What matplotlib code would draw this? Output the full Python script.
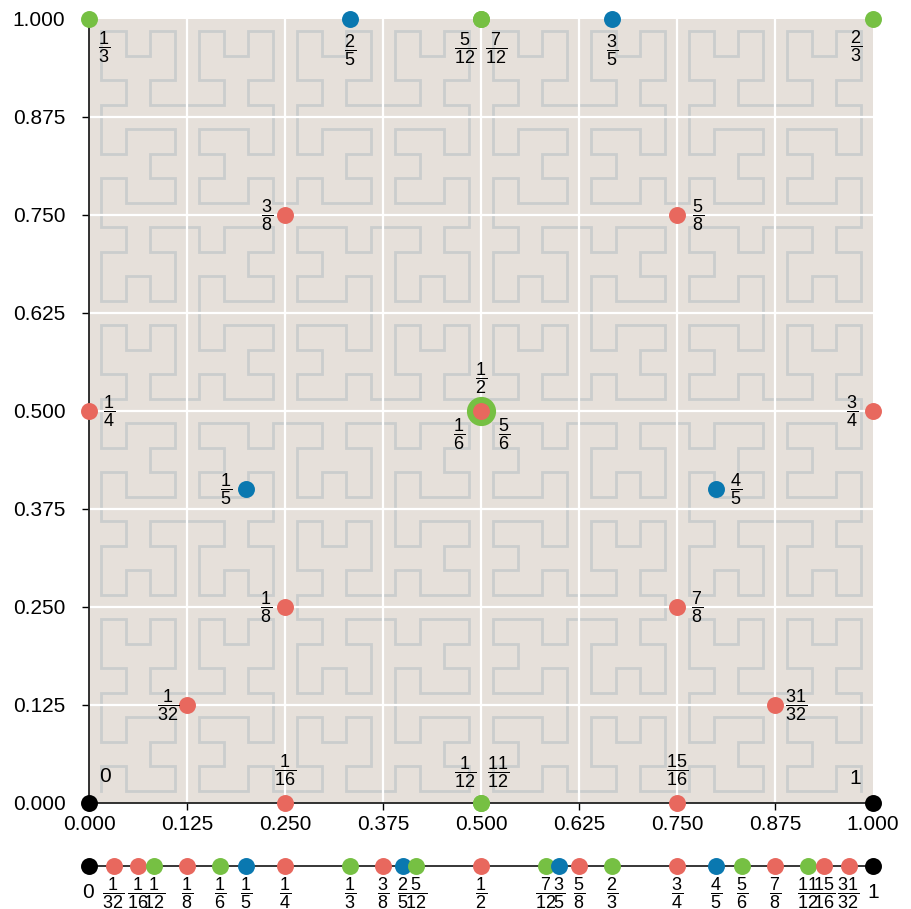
"""
Hilbert curve + rational points: where h(t) lands for a few simple fractions t,
and the same fractions on the unit interval underneath.
"""
import numpy as np
import matplotlib
matplotlib.use('Agg')
import matplotlib.pyplot as plt

plt.rcParams.update({
    'font.family': 'sans-serif',
    'font.sans-serif': ['Liberation Sans', 'DejaVu Sans'],
    'mathtext.fontset': 'custom',
    'mathtext.rm': 'Liberation Sans',
    'mathtext.it': 'Liberation Sans',
    'mathtext.bf': 'Liberation Sans:bold',
})

# --- data -------------------------------------------------------------------
HILBERT_ORDER = 5          # 32 x 32 cells in the background curve

# fraction t, numerator/denominator, and the image point h(t) in the square
frac_num = [0, 1, 1, 1, 1, 1, 1, 1, 1, 3, 2, 5, 1, 7, 3, 5, 2, 3, 4, 5, 7, 11, 15, 31, 1]
frac_den = [1, 32, 16, 12, 8, 6, 5, 4, 3, 8, 5, 12, 2, 12, 5, 8, 3, 4, 5, 6, 8, 12, 16, 32, 1]
hil_x = [0, 0.125, 0.25, 0.5, 0.25, 0.5, 0.2, 0, 0, 0.25, 1 / 3, 0.5, 0.5, 0.5,
         2 / 3, 0.75, 1, 1, 0.8, 0.5, 0.75, 0.5, 0.75, 0.875, 1]
hil_y = [0, 0.125, 0, 0, 0.25, 0.5, 0.4, 0.5, 1, 0.75, 1, 1, 0.5, 1,
         1, 0.75, 1, 0.5, 0.4, 0.5, 0.25, 0, 0, 0.125, 0]

tick_vals = [0, 0.125, 0.25, 0.375, 0.5, 0.625, 0.75, 0.875, 1.0]

# --- style ------------------------------------------------------------------
_RED = '#e8685e'
_GREEN = '#76c043'
_BLUE = '#0a78b0'
_BLACK = '#000000'
_BG = '#e6e0da'
_CURVE = '#cbcdcd'
_DOT = 12.2          # marker size (pt)
_RING = 21.0         # green dot behind the red one at (1/2, 1/2)
_TICK_FS = 15
_FRAC_FS = 13

# label offsets in pixels (dx, dy) from the point, for the square
_SQ_OFF = {
    '0': (16, 27), '1': (-18, 25),
    '1/32': (-19, 0), '31/32': (21, 0),
    '1/16': (0, 33), '15/16': (0, 33),
    '1/12': (-16, 31), '11/12': (17, 31),
    '1/8': (-19, 0), '7/8': (20, 0),
    '3/8': (-18, 0), '5/8': (21, 0),
    '1/5': (-20, 0), '4/5': (20, 0),
    '1/4': (20, 0), '3/4': (-21, 0),
    '1/2': (0, 33), '1/6': (-22, -23), '5/6': (23, -23),
    '1/3': (15, -28), '2/3': (-17, -27),
    '2/5': (0, -31), '3/5': (0, -31),
    '5/12': (-16, -29), '7/12': (15, -29),
}


def _color(num, den):
    if num == 0 or num == den:
        return _BLACK
    if den % 3 == 0:
        return _GREEN
    if den % 5 == 0:
        return _BLUE
    return _RED


def _label(num, den):
    if den == 1:
        return f'{num}', f'{num}'
    return f'{num}/{den}', r'$\dfrac{%d}{%d}$' % (num, den)


def _d2xy(n, d):
    """Hilbert index -> cell (x, y), curve starts (0,0) goes up, ends (n-1,0)."""
    x = y = 0
    s = 1
    t = d
    while s < n:
        rx = 1 & (t // 2)
        ry = 1 & (t ^ rx)
        if ry == 0:
            if rx == 1:
                x, y = s - 1 - x, s - 1 - y
            x, y = y, x
        x += s * rx
        y += s * ry
        t //= 4
        s *= 2
    return x, y


n = 2 ** HILBERT_ORDER
cells = np.array([_d2xy(n, d) for d in range(n * n)], dtype=float)
curve = (cells + 0.5) / n

# --- figure -----------------------------------------------------------------
W, H = 911, 909
fig = plt.figure(figsize=(W / 100, H / 100), dpi=100)
ax = fig.add_axes([89 / W, 106 / H, 784 / W, 784 / H])
ax.set_facecolor(_BG)
ax.plot(curve[:, 0], curve[:, 1], '-', color=_CURVE, lw=2.0, zorder=1,
        solid_joinstyle='miter')
for v in tick_vals[1:-1]:
    ax.axvline(v, color='white', lw=1.6, zorder=1.5)
    ax.axhline(v, color='white', lw=1.6, zorder=1.5)

ax.set_xlim(0, 1)
ax.set_ylim(0, 1)
ax.set_xticks(tick_vals)
ax.set_yticks(tick_vals)
ax.set_xticklabels([f'{v:.3f}' for v in tick_vals])
ax.set_yticklabels([f'{v:.3f}' for v in tick_vals])
ax.tick_params(axis='x', direction='out', length=5, width=1, pad=4,
               labelsize=_TICK_FS)
ax.tick_params(axis='y', direction='out', length=5, width=1, pad=12,
               labelsize=_TICK_FS)
for side in ('top', 'right'):
    ax.spines[side].set_visible(False)
for side in ('left', 'bottom'):
    ax.spines[side].set_linewidth(1.3)
    ax.spines[side].set_color('#222222')

# the big green behind the red at the centre
centre = [i for i in range(len(frac_num))
          if _color(frac_num[i], frac_den[i]) == _GREEN
          and hil_x[i] == 0.5 and hil_y[i] == 0.5]
if centre:
    i = centre[0]
    ax.plot(hil_x[i], hil_y[i], 'o', ms=_RING, color=_GREEN, mec='none',
            zorder=4, clip_on=False)

for i in range(len(frac_num)):
    c = _color(frac_num[i], frac_den[i])
    if i not in centre:
        ax.plot(hil_x[i], hil_y[i], 'o', ms=_DOT, color=c, mec='none',
                zorder=5 if c != _GREEN else 4.5, clip_on=False)
    key, txt = _label(frac_num[i], frac_den[i])
    dx, dy = _SQ_OFF[key]
    ax.annotate(txt, (hil_x[i], hil_y[i]), xytext=(dx, dy),
                textcoords='offset pixels', ha='center', va='center',
                fontsize=_FRAC_FS if frac_den[i] > 1 else _TICK_FS, zorder=6,
                annotation_clip=False)

# --- unit interval strip ----------------------------------------------------
sx = fig.add_axes([89 / W, 0, 784 / W, 86 / H])
sx.set_xlim(0, 1)
sx.set_ylim(-1, 1)
sx.axis('off')
sx.plot([0, 1], [0, 0], '-', color='black', lw=1.1, zorder=1)
t_vals = [frac_num[i] / frac_den[i] for i in range(len(frac_num))]
for k, i in enumerate(np.argsort(t_vals, kind='stable')):
    c = _color(frac_num[i], frac_den[i])
    sx.plot(t_vals[i], 0, 'o', ms=_DOT, color=c, mec='none', zorder=2 + k * 0.01,
            clip_on=False)
    key, txt = _label(frac_num[i], frac_den[i])
    if frac_den[i] == 1:
        sx.annotate(txt, (t_vals[i], 0), xytext=(-1 if frac_num[i] == 0 else 0, -26),
                    textcoords='offset pixels', ha='center', va='center',
                    fontsize=_TICK_FS, annotation_clip=False)
    else:
        sx.annotate(txt, (t_vals[i], 0), xytext=(0, -27),
                    textcoords='offset pixels', ha='center', va='center',
                    fontsize=_FRAC_FS, annotation_clip=False)

fig.savefig('out.png', dpi=100)
plt.close(fig)
